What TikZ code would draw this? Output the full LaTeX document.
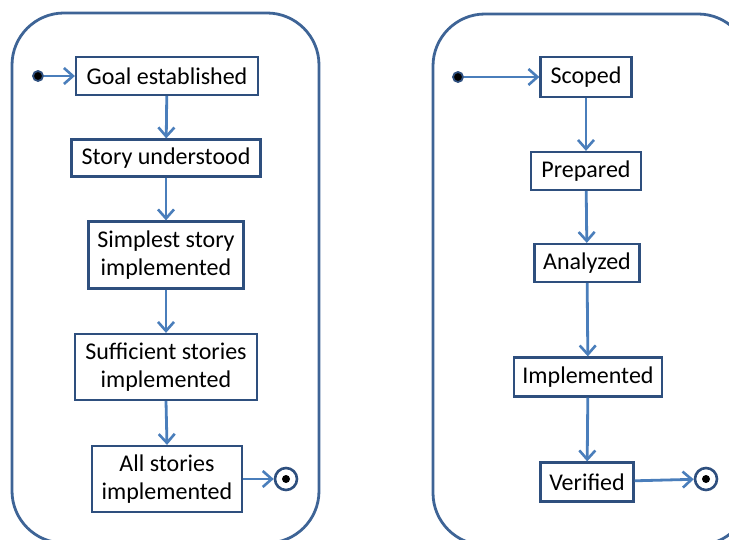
\documentclass[tikz,border=0pt]{standalone}
\usepackage{fontspec}
\setmainfont{Carlito}
\usetikzlibrary{arrows.meta}
\definecolor{frameblue}{HTML}{3E6496}
\definecolor{boxblue}{HTML}{2E4F7E}
\definecolor{flowblue}{HTML}{4A7EBB}
\tikzset{
  state/.style={draw=boxblue, line width=2.2pt, fill=white, align=center,
    inner sep=0pt, font=\fontsize{24}{28}\selectfont},
  flow/.style={draw=flowblue, line width=2.8pt,
    -{Straight Barb[length=9pt,width=16pt,line width=2.6pt]}},
  initdot/.style={circle, fill=black, draw=boxblue, line width=1.8pt,
    minimum size=10pt, inner sep=0pt},
  finalring/.style={circle, draw=boxblue, line width=2.6pt, fill=white,
    minimum size=22pt, inner sep=0pt},
  container/.style={draw=frameblue, line width=2.8pt, rounded corners=52pt}
}
\begin{document}
\begin{tikzpicture}[x=1pt,y=-1pt]
\useasboundingbox (0,0) rectangle (729,540);
\begin{scope}
\clip (0,0) rectangle (729,540);
% two swim containers, both running off the lower edge
\draw[container] (12,13) rectangle (319,543);
\draw[container] (433,14) rectangle (750,545);
\end{scope}

% left flow
\node[initdot] (s1) at (38,76) {};
\node[state, minimum width=182pt, minimum height=38pt] (g) at (167,76) {Goal established};
\node[state, minimum width=189pt, minimum height=37pt] (u) at (166,158) {Story understood};
\node[state, minimum width=155pt, minimum height=67pt] (si) at (166,255) {Simplest story\\implemented};
\node[state, minimum width=182pt, minimum height=66pt] (su) at (166,367) {Sufficient stories\\implemented};
\node[state, minimum width=150pt, minimum height=66pt] (al) at (167,479) {All stories\\implemented};
\node[finalring] (e1) at (286,479) {};
\fill (e1.center) circle (4pt);

\draw[flow] (s1) -- (g);
\draw[flow] (g) -- (u);
\draw[flow] (u) -- (si);
\draw[flow] (si) -- (su);
\draw[flow] (su.south) -- (al.north);
\draw[flow] (al) -- (e1);

% right flow
\node[initdot] (s2) at (458,77) {};
\node[state, minimum width=91pt, minimum height=40pt] (sc) at (586,77) {Scoped};
\node[state, minimum width=110pt, minimum height=38pt] (pr) at (586,171) {Prepared};
\node[state, minimum width=105pt, minimum height=38pt] (an) at (587,263) {Analyzed};
\node[state, minimum width=148pt, minimum height=39pt] (im) at (588,377) {Implemented};
\node[state, minimum width=93pt, minimum height=39pt] (ve) at (587,482) {Verified};
\node[finalring] (e2) at (706,479) {};
\fill (e2.center) circle (4pt);

\draw[flow] (s2) -- (sc);
\draw[flow] (sc) -- (pr);
\draw[flow] (pr) -- (an);
\draw[flow] (an) -- (im);
\draw[flow] (im) -- (ve);
\draw[flow] (ve) -- (e2);
\end{tikzpicture}
\end{document}
